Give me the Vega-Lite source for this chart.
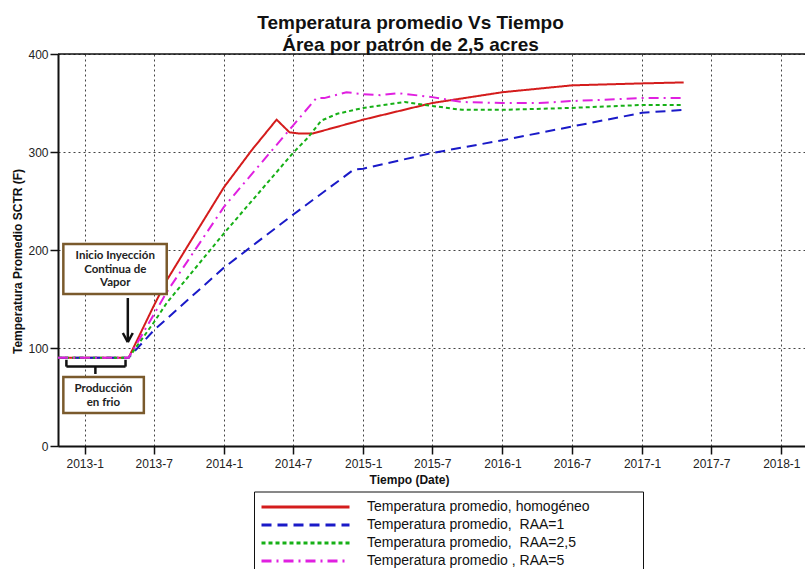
{
  "$schema": "https://vega.github.io/schema/vega-lite/v6.json",
  "width": 747,
  "height": 392,
  "autosize": {"type": "none"},
  "padding": {"left": 58, "top": 54, "right": 0, "bottom": 123},
  "background": "white",
  "title": {
    "text": ["Temperatura promedio Vs Tiempo", "Área por patrón de 2,5 acres"],
    "font": "Liberation Sans",
    "fontSize": 19,
    "fontWeight": "bold",
    "color": "#111",
    "anchor": "middle",
    "dx": -21,
    "lineHeight": 22,
    "offset": -7
  },
  "config": {
    "view": {"stroke": null},
    "axis": {
      "labelFont": "Liberation Sans",
      "labelFontSize": 12,
      "labelColor": "#222",
      "titleFont": "Liberation Sans",
      "titleFontSize": 12,
      "titleFontWeight": "bold",
      "titleColor": "#111",
      "domainColor": "#111",
      "domainWidth": 2,
      "tickColor": "#111",
      "tickWidth": 1.5,
      "tickSize": 8,
      "gridColor": "#444",
      "gridDash": [2, 3],
      "gridWidth": 1
    }
  },
  "datasets": {
    "series": [
      {"date": "2012/10/23", "value": 90, "serie": "Temperatura promedio, homogéneo"},
      {"date": "2013/04/26", "value": 90, "serie": "Temperatura promedio, homogéneo"},
      {"date": "2013/07/01", "value": 143, "serie": "Temperatura promedio, homogéneo"},
      {"date": "2013/08/04", "value": 169, "serie": "Temperatura promedio, homogéneo"},
      {"date": "2013/10/01", "value": 206, "serie": "Temperatura promedio, homogéneo"},
      {"date": "2014/01/01", "value": 264, "serie": "Temperatura promedio, homogéneo"},
      {"date": "2014/03/15", "value": 302, "serie": "Temperatura promedio, homogéneo"},
      {"date": "2014/05/19", "value": 333, "serie": "Temperatura promedio, homogéneo"},
      {"date": "2014/06/22", "value": 320, "serie": "Temperatura promedio, homogéneo"},
      {"date": "2014/07/15", "value": 319, "serie": "Temperatura promedio, homogéneo"},
      {"date": "2014/08/23", "value": 319, "serie": "Temperatura promedio, homogéneo"},
      {"date": "2015/01/01", "value": 333, "serie": "Temperatura promedio, homogéneo"},
      {"date": "2015/07/01", "value": 350, "serie": "Temperatura promedio, homogéneo"},
      {"date": "2016/01/01", "value": 361, "serie": "Temperatura promedio, homogéneo"},
      {"date": "2016/07/01", "value": 368, "serie": "Temperatura promedio, homogéneo"},
      {"date": "2017/01/01", "value": 370, "serie": "Temperatura promedio, homogéneo"},
      {"date": "2017/04/20", "value": 371, "serie": "Temperatura promedio, homogéneo"},

      {"date": "2012/10/23", "value": 90, "serie": "Temperatura promedio,\u00a0 RAA=1"},
      {"date": "2013/04/26", "value": 90, "serie": "Temperatura promedio,\u00a0 RAA=1"},
      {"date": "2013/07/01", "value": 118, "serie": "Temperatura promedio,\u00a0 RAA=1"},
      {"date": "2014/01/01", "value": 182, "serie": "Temperatura promedio,\u00a0 RAA=1"},
      {"date": "2014/07/01", "value": 236, "serie": "Temperatura promedio,\u00a0 RAA=1"},
      {"date": "2014/12/07", "value": 282, "serie": "Temperatura promedio,\u00a0 RAA=1"},
      {"date": "2015/01/01", "value": 283, "serie": "Temperatura promedio,\u00a0 RAA=1"},
      {"date": "2015/07/01", "value": 299, "serie": "Temperatura promedio,\u00a0 RAA=1"},
      {"date": "2016/01/01", "value": 312, "serie": "Temperatura promedio,\u00a0 RAA=1"},
      {"date": "2016/07/01", "value": 326, "serie": "Temperatura promedio,\u00a0 RAA=1"},
      {"date": "2017/01/01", "value": 340, "serie": "Temperatura promedio,\u00a0 RAA=1"},
      {"date": "2017/04/20", "value": 343, "serie": "Temperatura promedio,\u00a0 RAA=1"},

      {"date": "2012/10/23", "value": 90, "serie": "Temperatura promedio,\u00a0 RAA=2,5"},
      {"date": "2013/04/26", "value": 90, "serie": "Temperatura promedio,\u00a0 RAA=2,5"},
      {"date": "2013/07/01", "value": 126, "serie": "Temperatura promedio,\u00a0 RAA=2,5"},
      {"date": "2013/08/04", "value": 146, "serie": "Temperatura promedio,\u00a0 RAA=2,5"},
      {"date": "2014/01/01", "value": 217, "serie": "Temperatura promedio,\u00a0 RAA=2,5"},
      {"date": "2014/07/01", "value": 299, "serie": "Temperatura promedio,\u00a0 RAA=2,5"},
      {"date": "2014/08/10", "value": 315, "serie": "Temperatura promedio,\u00a0 RAA=2,5"},
      {"date": "2014/09/13", "value": 332, "serie": "Temperatura promedio,\u00a0 RAA=2,5"},
      {"date": "2014/10/25", "value": 339, "serie": "Temperatura promedio,\u00a0 RAA=2,5"},
      {"date": "2015/01/01", "value": 345, "serie": "Temperatura promedio,\u00a0 RAA=2,5"},
      {"date": "2015/04/20", "value": 351, "serie": "Temperatura promedio,\u00a0 RAA=2,5"},
      {"date": "2015/07/01", "value": 347, "serie": "Temperatura promedio,\u00a0 RAA=2,5"},
      {"date": "2015/09/17", "value": 343, "serie": "Temperatura promedio,\u00a0 RAA=2,5"},
      {"date": "2016/01/01", "value": 343, "serie": "Temperatura promedio,\u00a0 RAA=2,5"},
      {"date": "2016/07/01", "value": 345, "serie": "Temperatura promedio,\u00a0 RAA=2,5"},
      {"date": "2017/01/01", "value": 348, "serie": "Temperatura promedio,\u00a0 RAA=2,5"},
      {"date": "2017/04/20", "value": 348, "serie": "Temperatura promedio,\u00a0 RAA=2,5"},

      {"date": "2012/10/23", "value": 90, "serie": "Temperatura promedio , RAA=5"},
      {"date": "2013/04/26", "value": 90, "serie": "Temperatura promedio , RAA=5"},
      {"date": "2013/07/01", "value": 134, "serie": "Temperatura promedio , RAA=5"},
      {"date": "2013/08/04", "value": 157, "serie": "Temperatura promedio , RAA=5"},
      {"date": "2014/01/01", "value": 244, "serie": "Temperatura promedio , RAA=5"},
      {"date": "2014/07/01", "value": 327, "serie": "Temperatura promedio , RAA=5"},
      {"date": "2014/08/31", "value": 355, "serie": "Temperatura promedio , RAA=5"},
      {"date": "2014/09/21", "value": 355, "serie": "Temperatura promedio , RAA=5"},
      {"date": "2014/11/18", "value": 361, "serie": "Temperatura promedio , RAA=5"},
      {"date": "2015/01/01", "value": 359, "serie": "Temperatura promedio , RAA=5"},
      {"date": "2015/02/15", "value": 358, "serie": "Temperatura promedio , RAA=5"},
      {"date": "2015/04/04", "value": 360, "serie": "Temperatura promedio , RAA=5"},
      {"date": "2015/07/01", "value": 356, "serie": "Temperatura promedio , RAA=5"},
      {"date": "2015/09/17", "value": 351, "serie": "Temperatura promedio , RAA=5"},
      {"date": "2016/01/01", "value": 350, "serie": "Temperatura promedio , RAA=5"},
      {"date": "2016/04/07", "value": 350, "serie": "Temperatura promedio , RAA=5"},
      {"date": "2016/07/01", "value": 352, "serie": "Temperatura promedio , RAA=5"},
      {"date": "2017/01/01", "value": 355, "serie": "Temperatura promedio , RAA=5"},
      {"date": "2017/04/20", "value": 355, "serie": "Temperatura promedio , RAA=5"}
    ],
    "boxes": [
      {"x1": "2012/11/06", "x2": "2013/08/04", "y1": 155, "y2": 206},
      {"x1": "2012/11/06", "x2": "2013/06/05", "y1": 33.7, "y2": 70.4}
    ],
    "labels": [
      {"date": "2013/03/22", "value": 194, "text": "Inicio Inyección"},
      {"date": "2013/03/22", "value": 180, "text": "Continua de"},
      {"date": "2013/03/22", "value": 166, "text": "Vapor"},
      {"date": "2013/02/19", "value": 58, "text": "Producción"},
      {"date": "2013/02/19", "value": 44, "text": "en frio"}
    ],
    "segments": [
      {"x1": "2013/04/24", "x2": "2013/04/24", "y1": 151, "y2": 106.5},
      {"x1": "2013/04/11", "x2": "2013/04/24", "y1": 115.3, "y2": 106},
      {"x1": "2013/05/07", "x2": "2013/04/24", "y1": 115.3, "y2": 106},
      {"x1": "2012/11/14", "x2": "2013/04/18", "y1": 81, "y2": 81},
      {"x1": "2012/11/14", "x2": "2012/11/14", "y1": 81, "y2": 88},
      {"x1": "2013/04/18", "x2": "2013/04/18", "y1": 81, "y2": 88},
      {"x1": "2013/01/29", "x2": "2013/01/29", "y1": 81, "y2": 73.5}
    ],
    "top": [{"value": 400}]
  },
  "layer": [
    {
      "data": {"name": "series"},
      "mark": {"type": "line", "strokeWidth": 2},
      "encoding": {
        "x": {
          "field": "date",
          "type": "temporal",
          "title": "Tiempo (Date)",
          "scale": {"domain": [{"year": 2012, "month": 10, "date": 23}, {"year": 2018, "month": 3, "date": 4}]},
          "axis": {
            "title": "Tiempo (Date)",
            "format": "%Y-%-m",
            "tickCount": {"interval": "month", "step": 6},
            "labelPadding": 4,
            "titlePadding": 5,
            "titleX": 351,
            "grid": true
          }
        },
        "y": {
          "field": "value",
          "type": "quantitative",
          "title": "Temperatura Promedio SCTR (F)",
          "scale": {"domain": [0, 400], "nice": false},
          "axis": {
            "title": "Temperatura Promedio SCTR (F)",
            "values": [0, 100, 200, 300, 400],
            "labelPadding": 2,
            "titlePadding": 3,
            "titleY": 207,
            "grid": true
          }
        },
        "color": {
          "field": "serie",
          "type": "nominal",
          "scale": {
            "domain": ["Temperatura promedio, homogéneo", "Temperatura promedio,\u00a0 RAA=1", "Temperatura promedio,\u00a0 RAA=2,5", "Temperatura promedio , RAA=5"],
            "range": ["#d41c1c", "#1a1ac8", "#16b016", "#e020e0"]
          },
          "legend": {
            "orient": "none",
            "legendX": 196,
            "legendY": 437.5,
            "title": null,
            "direction": "vertical",
            "strokeColor": "#111",
            "fillColor": "white",
            "padding": 6,
            "symbolType": "M-1,0H10",
            "symbolSize": 256,
            "symbolStrokeWidth": 3,
            "labelFont": "Liberation Sans",
            "labelFontSize": 14,
            "labelColor": "#111",
            "labelOffset": 88,
            "labelLimit": 500,
            "labelExpr": "datum.label + '\u00a0\u00a0\u00a0\u00a0\u00a0\u00a0\u00a0\u00a0\u00a0\u00a0\u00a0\u00a0\u200b'",
            "rowPadding": 1
          }
        },
        "strokeDash": {
          "field": "serie",
          "type": "nominal",
          "scale": {
            "domain": ["Temperatura promedio, homogéneo", "Temperatura promedio,\u00a0 RAA=1", "Temperatura promedio,\u00a0 RAA=2,5", "Temperatura promedio , RAA=5"],
            "range": [[1, 0], [10, 6], [4, 3], [10, 5, 2, 5]]
          },
          "legend": null
        },
        "order": {"field": "date", "type": "temporal"}
      }
    },
    {
      "data": {"name": "top"},
      "mark": {"type": "rule", "color": "#111", "strokeWidth": 1.5},
      "encoding": {
        "y": {"field": "value", "type": "quantitative", "title": "Temperatura Promedio SCTR (F)", "scale": {"domain": [0, 400], "nice": false}}
      }
    },
    {
      "data": {"name": "segments"},
      "mark": {"type": "rule", "color": "#111", "strokeWidth": 2.5},
      "encoding": {
        "x": {"field": "x1", "type": "temporal", "title": "Tiempo (Date)", "scale": {"domain": [{"year": 2012, "month": 10, "date": 23}, {"year": 2018, "month": 3, "date": 4}]}},
        "x2": {"field": "x2"},
        "y": {"field": "y1", "type": "quantitative", "title": "Temperatura Promedio SCTR (F)", "scale": {"domain": [0, 400], "nice": false}},
        "y2": {"field": "y2"}
      }
    },
    {
      "data": {"name": "boxes"},
      "mark": {"type": "rect", "fill": "white", "stroke": "#7a5a2c", "strokeWidth": 2.5},
      "encoding": {
        "x": {"field": "x1", "type": "temporal", "title": "Tiempo (Date)", "scale": {"domain": [{"year": 2012, "month": 10, "date": 23}, {"year": 2018, "month": 3, "date": 4}]}},
        "x2": {"field": "x2"},
        "y": {"field": "y1", "type": "quantitative", "title": "Temperatura Promedio SCTR (F)", "scale": {"domain": [0, 400], "nice": false}},
        "y2": {"field": "y2"}
      }
    },
    {
      "data": {"name": "labels"},
      "mark": {"type": "text", "font": "Lato", "fontWeight": "bold", "fontSize": 11.5, "color": "#222", "align": "center", "baseline": "middle"},
      "encoding": {
        "x": {"field": "date", "type": "temporal", "title": "Tiempo (Date)", "scale": {"domain": [{"year": 2012, "month": 10, "date": 23}, {"year": 2018, "month": 3, "date": 4}]}},
        "y": {"field": "value", "type": "quantitative", "title": "Temperatura Promedio SCTR (F)", "scale": {"domain": [0, 400], "nice": false}},
        "text": {"field": "text"}
      }
    }
  ]
}
